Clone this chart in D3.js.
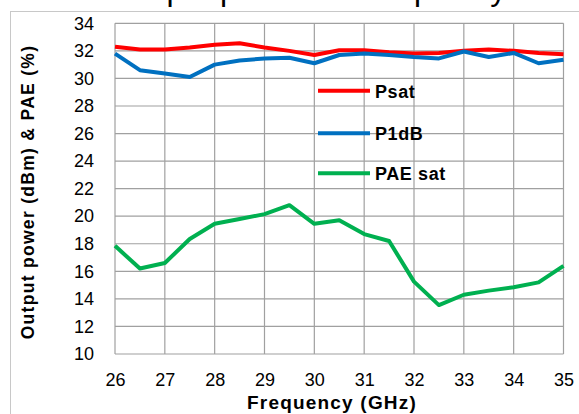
<!DOCTYPE html>
<html>
<head>
<meta charset="utf-8">
<script src="https://cdn.jsdelivr.net/npm/d3@7"></script>
<style>
  html, body { margin: 0; padding: 0; background: #fff; }
  svg { display: block; font-family: "Liberation Sans", Arial, sans-serif; }
</style>
</head>
<body>
<svg id="chart" width="579" height="414"></svg>
<script>
// Frequency sweep points (GHz)
const freqs = [26, 26.5, 27, 27.5, 28, 28.5, 29, 29.5, 30, 30.5, 31, 31.5, 32, 32.5, 33, 33.5, 34, 34.5, 35];
// Saturated output power (dBm)
const psat = [32.3, 32.1, 32.1, 32.25, 32.45, 32.55, 32.25, 32.0, 31.7, 32.05, 32.05, 31.9, 31.8, 31.85, 32.0, 32.1, 32.0, 31.85, 31.75];
// Output power at 1 dB compression (dBm)
const p1db = [31.8, 30.6, 30.35, 30.1, 31.0, 31.3, 31.45, 31.5, 31.1, 31.7, 31.8, 31.7, 31.55, 31.45, 31.95, 31.55, 31.85, 31.1, 31.35];
// Power added efficiency at saturation (%)
const paeSat = [17.85, 16.2, 16.6, 18.35, 19.45, 19.8, 20.15, 20.8, 19.45, 19.7, 18.7, 18.2, 15.25, 13.55, 14.3, 14.6, 14.85, 15.2, 16.4];

const xTicks = [26, 27, 28, 29, 30, 31, 32, 33, 34, 35];
const yTicks = [10, 12, 14, 16, 18, 20, 22, 24, 26, 28, 30, 32, 34];
const seriesNames = ["Psat", "P1dB", "PAE sat"];
const seriesColors = ["#ff0000", "#0070c0", "#00b050"];

const svg = d3.select("#chart");
const plot = { left: 115, right: 563.5, top: 23.3, bottom: 354 };

const x = d3.scaleLinear().domain([26, 35]).range([plot.left, plot.right]);
const y = d3.scaleLinear().domain([10, 34]).range([plot.bottom, plot.top]);

// Chart title (sits at the very top edge)
svg.append("text")
  .attr("x", 115).attr("y", 0)
  .attr("font-size", 32)
  .attr("fill", "#000")
  .text("Output power vs. frequency");

// Outer chart frame
svg.append("rect")
  .attr("x", 10.5).attr("y", 11.5)
  .attr("width", 600).attr("height", 420)
  .attr("fill", "none").attr("stroke", "#c8c8c8").attr("stroke-width", 1);

// Gridlines
const grid = svg.append("g").attr("stroke", "#a0a0a0").attr("stroke-width", 1.2);
grid.selectAll("line.h").data(yTicks).join("line")
  .attr("x1", plot.left).attr("x2", plot.right)
  .attr("y1", d => y(d)).attr("y2", d => y(d));
grid.selectAll("line.v").data(xTicks).join("line")
  .attr("y1", plot.top).attr("y2", plot.bottom)
  .attr("x1", d => x(d)).attr("x2", d => x(d));

// Axes (labels only, the frame is drawn by the grid)
const yAxis = svg.append("g")
  .attr("transform", `translate(${plot.left},0)`)
  .call(d3.axisLeft(y).tickValues(yTicks).tickSize(0).tickPadding(21));
const xAxis = svg.append("g")
  .attr("transform", `translate(0,${plot.bottom})`)
  .call(d3.axisBottom(x).tickValues(xTicks).tickSize(0).tickPadding(19));
[yAxis, xAxis].forEach(a => {
  a.select(".domain").remove();
  a.selectAll("text")
    .attr("font-family", "'Liberation Sans', Arial, sans-serif")
    .attr("font-size", 18)
    .attr("fill", "#000");
});

// Series lines
const series = [psat, p1db, paeSat];
const line = d3.line().x((d, i) => x(freqs[i])).y(d => y(d));
svg.append("g").selectAll("path").data(series).join("path")
  .attr("d", d => line(d))
  .attr("fill", "none")
  .attr("stroke", (d, i) => seriesColors[i])
  .attr("stroke-width", 4)
  .attr("stroke-linejoin", "round");

// Legend
const legendY = [90.7, 133.3, 173.3];
const legend = svg.append("g");
seriesNames.forEach((name, i) => {
  legend.append("line")
    .attr("x1", 318).attr("x2", 370)
    .attr("y1", legendY[i]).attr("y2", legendY[i])
    .attr("stroke", seriesColors[i]).attr("stroke-width", 4);
  legend.append("text")
    .attr("x", 375).attr("y", legendY[i] + 7)
    .attr("font-size", 18).attr("font-weight", "bold")
    .attr("letter-spacing", 0.6)
    .attr("fill", "#000")
    .text(name);
});

// Axis titles
svg.append("text")
  .attr("x", 332).attr("y", 409)
  .attr("text-anchor", "middle")
  .attr("font-size", 19).attr("font-weight", "bold")
  .attr("letter-spacing", 1.2)
  .text("Frequency (GHz)");

svg.append("text")
  .attr("transform", "translate(34,192) rotate(-90)")
  .attr("text-anchor", "middle")
  .attr("font-size", 17.5).attr("font-weight", "bold")
  .attr("letter-spacing", 1.3)
  .text("Output power (dBm) & PAE (%)");
</script>
</body>
</html>
